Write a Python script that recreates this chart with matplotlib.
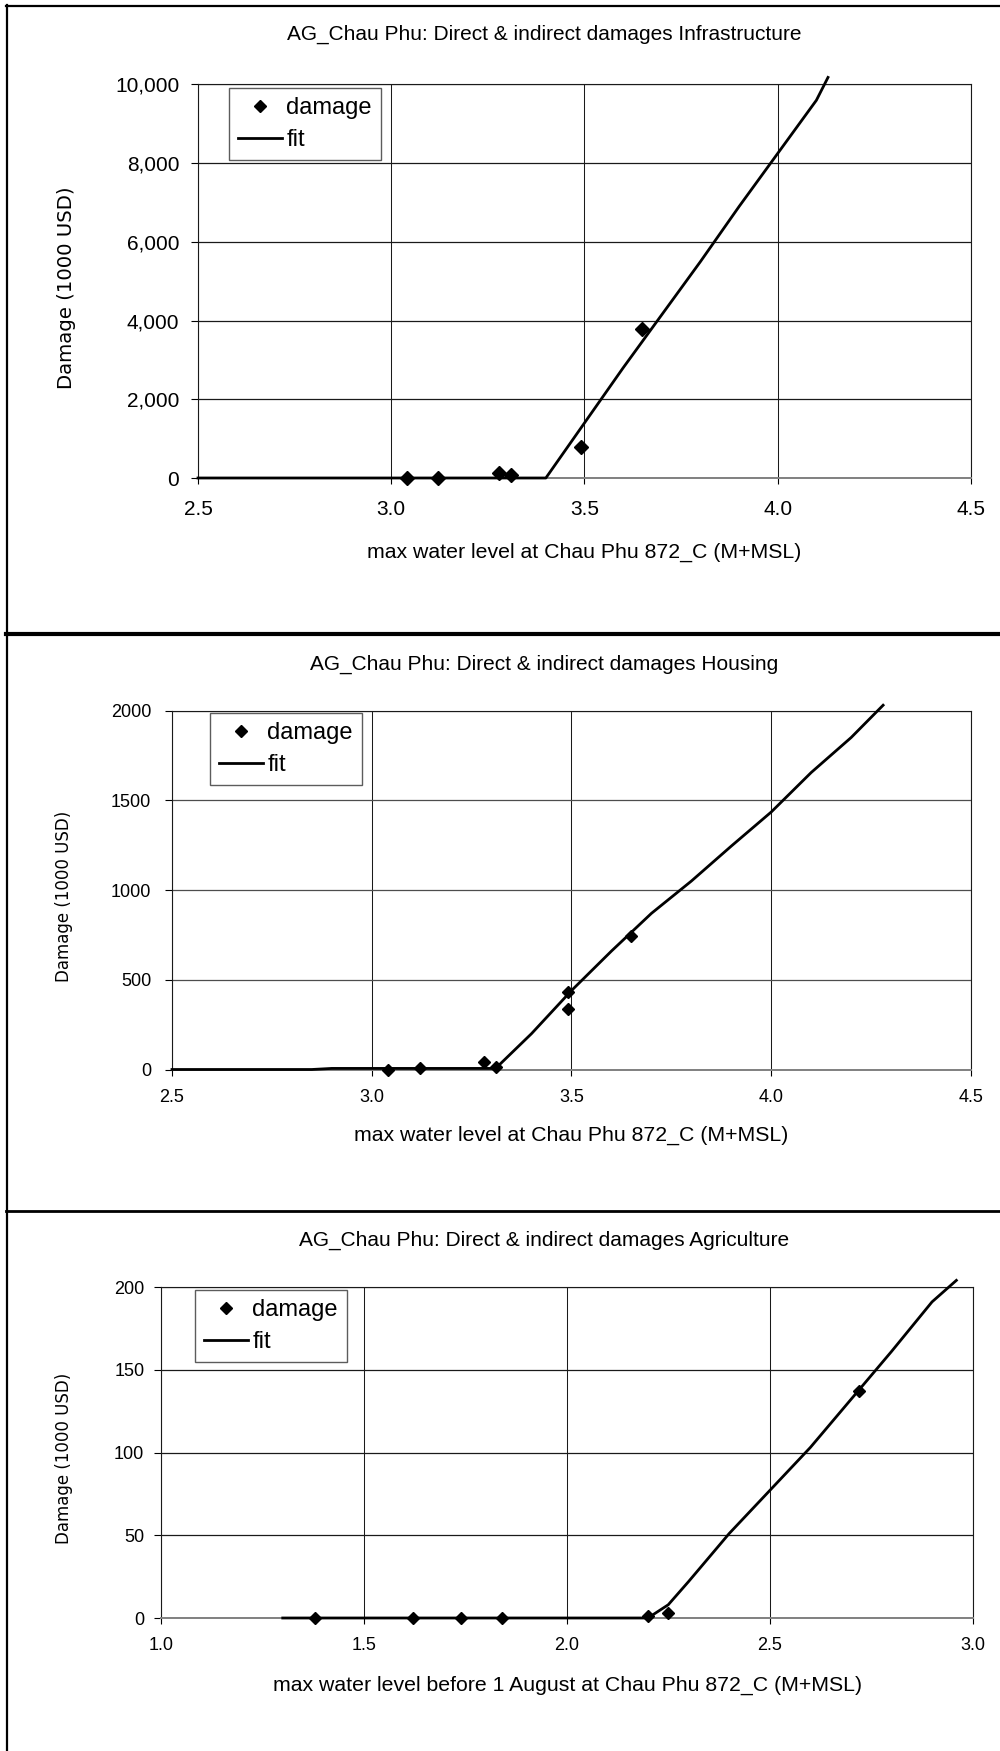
import matplotlib
matplotlib.use("Agg")
import matplotlib.pyplot as plt
from matplotlib.lines import Line2D
from matplotlib.ticker import FuncFormatter, FixedLocator

# ---------------- data ----------------
titles = ["AG_Chau Phu: Direct & indirect damages Infrastructure",
          "AG_Chau Phu: Direct & indirect damages Housing",
          "AG_Chau Phu: Direct & indirect damages Agriculture"]
xlabels = ["max water level at Chau Phu 872_C (M+MSL)",
           "max water level at Chau Phu 872_C (M+MSL)",
           "max water level before 1 August at Chau Phu 872_C (M+MSL)"]
ylabel = "Damage (1000 USD)"
legend_labels = ["damage", "fit"]

infra_x = [3.04, 3.12, 3.28, 3.31, 3.49, 3.65]
infra_y = [0, 0, 120, 70, 800, 3780]
infra_fit_x = [2.5, 3.4, 3.5, 3.6, 3.7, 3.8, 3.9, 4.0, 4.1, 4.13]
infra_fit_y = [0, 0, 1400, 2800, 4150, 5500, 6900, 8250, 9600, 10180]
infra_xticks = [2.5, 3.0, 3.5, 4.0, 4.5]
infra_yticks = [0, 2000, 4000, 6000, 8000, 10000]

housing_x = [3.04, 3.12, 3.28, 3.31, 3.49, 3.49, 3.65]
housing_y = [0, 6, 43, 12, 433, 336, 742]
housing_fit_x = [2.5, 2.85, 2.9, 3.0, 3.1, 3.2, 3.31, 3.4, 3.5, 3.6, 3.7, 3.8,
                 3.9, 4.0, 4.1, 4.2, 4.28]
housing_fit_y = [0, 0, 6, 6, 6, 6, 6, 200, 440, 660, 870, 1050, 1245, 1435,
                 1655, 1850, 2030]
housing_xticks = [2.5, 3.0, 3.5, 4.0, 4.5]
housing_yticks = [0, 500, 1000, 1500, 2000]

agri_x = [1.38, 1.62, 1.74, 1.84, 2.20, 2.25, 2.72]
agri_y = [0, 0, 0, 0, 1, 3, 137]
agri_fit_x = [1.3, 2.2, 2.25, 2.3, 2.4, 2.5, 2.6, 2.7, 2.8, 2.9, 2.96]
agri_fit_y = [0, 0, 8, 22, 51, 77, 103, 132, 161, 191, 204]
agri_xticks = [1.0, 1.5, 2.0, 2.5, 3.0]
agri_yticks = [0, 50, 100, 150, 200]

# ---------------- layout (pixels) ----------------
W, H = 1000, 1751
FONT = "Liberation Sans"
plt.rcParams["font.family"] = [FONT, "DejaVu Sans"]

fig = plt.figure(figsize=(W / 100, H / 100), dpi=100)


def fx(px):
    return px / W


def fy(py):
    return 1 - py / H


panels = [
    dict(x=infra_x, y=infra_y, fx_=infra_fit_x, fy_=infra_fit_y,
         xt=infra_xticks, yt=infra_yticks, comma=True,
         box=(198, 84.5, 971, 478), tick_fs=15, ms=7.0,
         title_y=34.7, title_x=544, xl_x=584, xl_y=552,
         yl_x=66, yl_fs=14.2, ypad=8.5, xpad=12,
         leg=(229, 88, 380, 161), grid_h="#1a1a1a"),
    dict(x=housing_x, y=housing_y, fx_=housing_fit_x, fy_=housing_fit_y,
         xt=housing_xticks, yt=housing_yticks, comma=False,
         box=(172, 710.6, 971, 1069.5), tick_fs=13, ms=6.3,
         title_y=664, title_x=544, xl_x=571, xl_y=1135,
         yl_x=64, yl_fs=12, ypad=10, xpad=10,
         leg=(210, 713, 363, 786), grid_h="#4d4d4d"),
    dict(x=agri_x, y=agri_y, fx_=agri_fit_x, fy_=agri_fit_y,
         xt=agri_xticks, yt=agri_yticks, comma=False,
         box=(161, 1287, 972.6, 1618), tick_fs=13, ms=6.3,
         title_y=1240, title_x=544, xl_x=568, xl_y=1685,
         yl_x=64, yl_fs=12, ypad=7, xpad=10,
         leg=(195, 1290, 347, 1363), grid_h="#1a1a1a"),
]

for i, p in enumerate(panels):
    l, t, r, b = p["box"]
    ax = fig.add_axes([fx(l), fy(b), fx(r) - fx(l), fy(t) - fy(b)])
    ax.set_xlim(p["xt"][0], p["xt"][-1])
    ax.set_ylim(p["yt"][0], p["yt"][-1])
    ax.xaxis.set_major_locator(FixedLocator(p["xt"]))
    ax.yaxis.set_major_locator(FixedLocator(p["yt"]))
    ax.xaxis.set_major_formatter(FuncFormatter(lambda v, pos: f"{v:.1f}"))
    if p["comma"]:
        ax.yaxis.set_major_formatter(FuncFormatter(lambda v, pos: f"{v:,.0f}"))
    else:
        ax.yaxis.set_major_formatter(FuncFormatter(lambda v, pos: f"{v:.0f}"))
    ax.grid(True, axis="y", color=p["grid_h"], linewidth=0.9)
    ax.grid(True, axis="x", color="#1a1a1a", linewidth=0.75)
    ax.set_axisbelow(True)
    for s in ax.spines.values():
        s.set_color("#1a1a1a")
        s.set_linewidth(0.8)
    ax.spines["bottom"].set_color("#808080")
    ax.spines["bottom"].set_linewidth(1.4)
    ax.tick_params(axis="y", direction="out", length=5, width=0.8,
                   pad=p["ypad"], labelsize=p["tick_fs"], colors="black")
    ax.tick_params(axis="x", direction="out", length=4, width=0.8,
                   pad=p["xpad"], labelsize=p["tick_fs"], colors="black")

    ax.plot(p["fx_"], p["fy_"], color="black", linewidth=2.0,
            solid_joinstyle="round", clip_on=False, zorder=3)
    ax.plot(p["x"], p["y"], linestyle="none", marker="D", markersize=p["ms"],
            color="black", clip_on=False, zorder=4)

    # legend
    ll, lt, lr, lb = p["leg"]
    handles = [Line2D([], [], linestyle="none", marker="D", markersize=6.5,
                      color="black"),
               Line2D([], [], color="black", linewidth=2.0)]
    leg = fig.legend(handles, legend_labels, loc="upper left",
                     bbox_to_anchor=(fx(ll), fy(lt)), borderaxespad=0,
                     fontsize=17, frameon=True, fancybox=False,
                     handlelength=1.85, handletextpad=0.2, labelspacing=0.42,
                     borderpad=0.38)
    leg.get_frame().set_edgecolor("#333333")
    leg.get_frame().set_linewidth(1.0)

    fig.text(fx(p["title_x"]), fy(p["title_y"]), titles[i], ha="center",
             va="center", fontsize=15)
    fig.text(fx(p["xl_x"]), fy(p["xl_y"]), xlabels[i], ha="center",
             va="center", fontsize=15.3)
    fig.text(fx(p["yl_x"]), fy((t + b) / 2 + 6), ylabel, ha="center",
             va="center", rotation=90, fontsize=p["yl_fs"],
             family="DejaVu Sans")

# frame lines
fig.add_artist(Line2D([fx(7), fx(7)], [fy(5), fy(H)], color="black",
                      linewidth=1.6, transform=fig.transFigure))
fig.add_artist(Line2D([fx(6), fx(W)], [fy(6), fy(6)], color="black",
                      linewidth=1.6, transform=fig.transFigure))
fig.add_artist(Line2D([fx(6), fx(W)], [fy(634), fy(634)], color="black",
                      linewidth=3.0, transform=fig.transFigure))
fig.add_artist(Line2D([fx(6), fx(W)], [fy(1211), fy(1211)], color="black",
                      linewidth=2.0, transform=fig.transFigure))

fig.savefig("out.png", dpi=100, facecolor="white")
